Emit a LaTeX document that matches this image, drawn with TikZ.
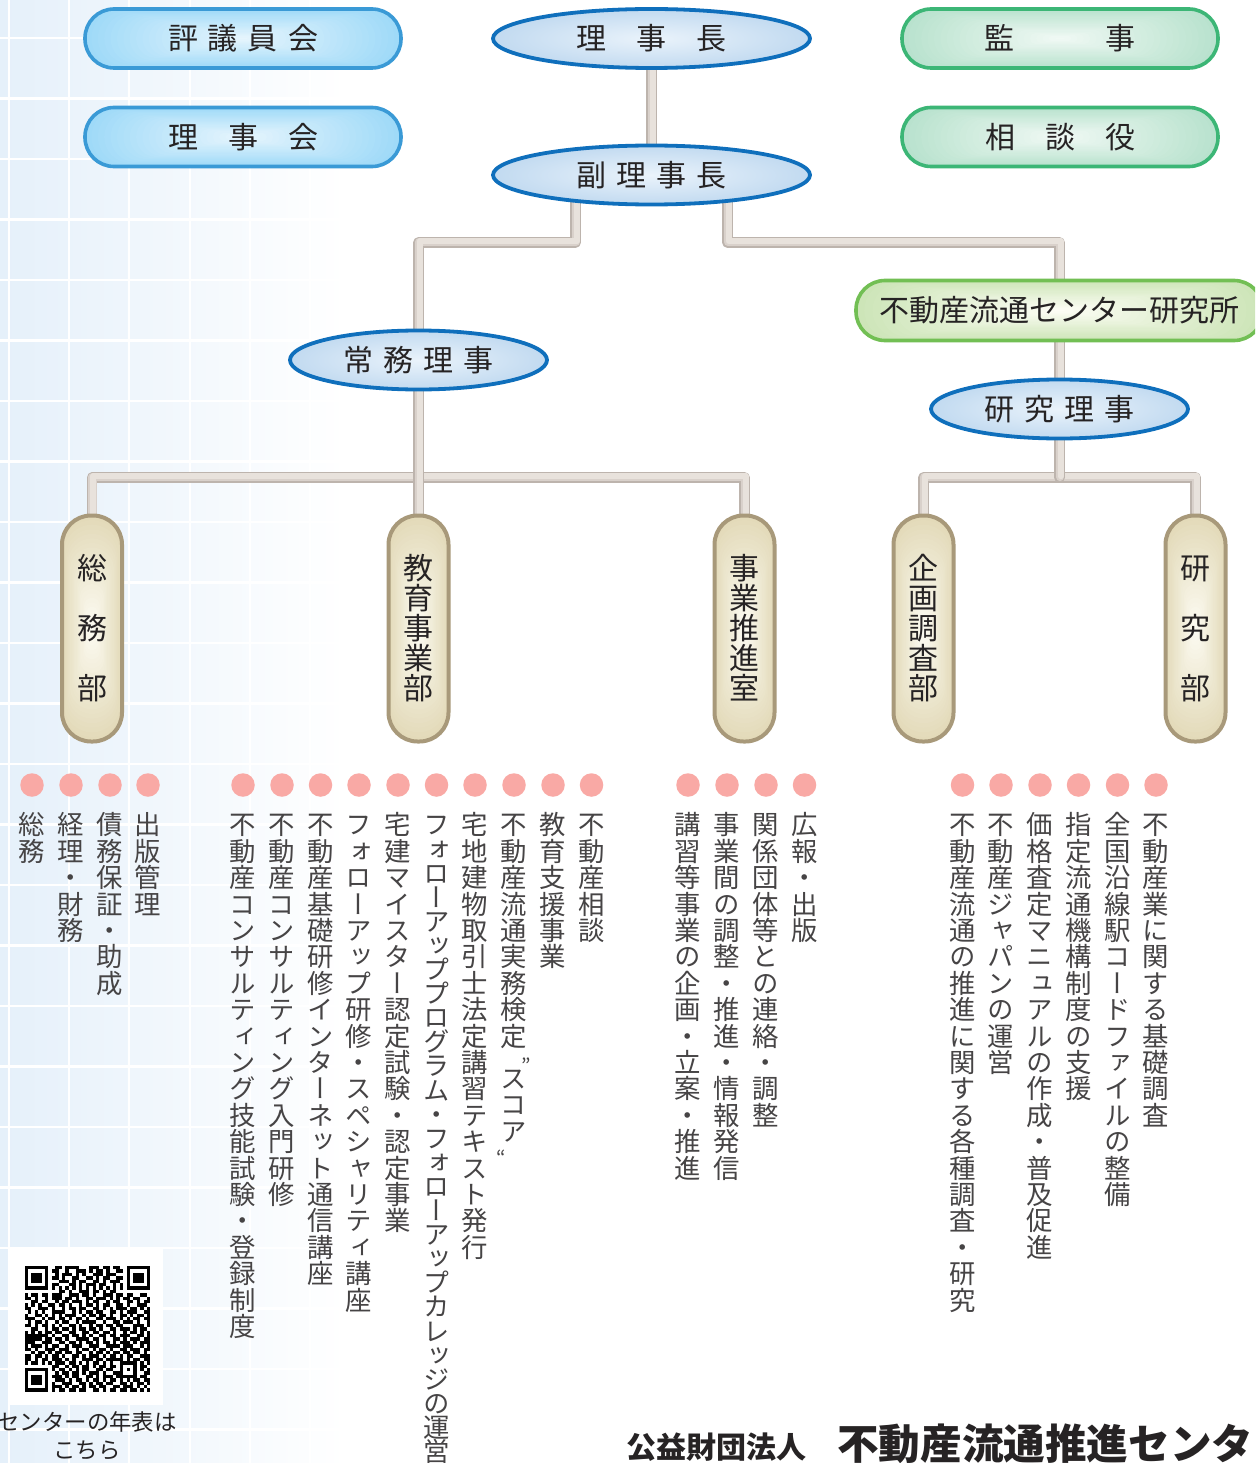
\documentclass[tikz,border=0pt]{standalone}
\usepackage{fontspec}
\usetikzlibrary{shapes.geometric}
\setmainfont{Noto Sans CJK JP}
\newfontfamily\vfont[RawFeature=+vert]{Noto Sans CJK JP}
\definecolor{txt}{HTML}{262324}
\definecolor{itxt}{HTML}{464445}
\definecolor{bluebd}{HTML}{3A9AD6}
\definecolor{blueed}{HTML}{9FDAF8}
\definecolor{bluece}{HTML}{E6F5FD}
\definecolor{greenbd}{HTML}{3CB676}
\definecolor{greened}{HTML}{B9E2CE}
\definecolor{greence}{HTML}{F0F9F4}
\definecolor{limebd}{HTML}{72BF54}
\definecolor{limeed}{HTML}{CDE5B8}
\definecolor{limece}{HTML}{FDFDF5}
\definecolor{sandbd}{HTML}{A8997A}
\definecolor{sanded}{HTML}{E3DAB9}
\definecolor{sandce}{HTML}{FCFBF2}
\definecolor{ellbd}{HTML}{0F6FBC}
\definecolor{ellce}{HTML}{EAF3FB}
\definecolor{elled}{HTML}{A3C7E8}
\definecolor{dotc}{HTML}{F9A9A5}
\definecolor{bgc}{HTML}{E5F0FA}
\definecolor{pipeD}{HTML}{BDB4AD}
\definecolor{pipeM}{HTML}{D9D1CB}
\definecolor{pipeL}{HTML}{E8E2DC}
\pgfdeclareradialshading{ellshade}{\pgfpoint{0bp}{0bp}}{color(0bp)=(ellce); color(44bp)=(elled); color(100bp)=(elled)}
\pgfdeclarelayer{back}\pgfdeclarelayer{pipes}\pgfsetlayers{back,pipes,main}
% soft burst fill under a pill: centre x, centre y, width, height, edge colour, centre colour
\newcommand\softbg[6]{%
  \begin{scope}[shift={(#1,#2)}]
    \foreach \i in {0,...,24}{%
      \pgfmathsetmacro\tq{\i/24}%
      \pgfmathsetmacro\pc{100*\tq}%
      \pgfmathsetmacro\hw{#3/2*(1-\tq*0.97)}%
      \pgfmathsetmacro\hh{#4/2*(1-\tq*0.97)}%
      \pgfmathsetmacro\rr{min(\hw,\hh)}%
      \pgfmathsetmacro\dx{\hw-\rr}%
      \pgfmathsetmacro\dy{\hh-\rr}%
      \pgfmathsetmacro\lw{2*\rr}%
      \draw[#6!\pc!#5, line cap=round, line width=\lw pt] (-\dx,-\dy) -- (\dx,\dy);
    }%
  \end{scope}}
% vertical text: one upright cell per character
\def\vend{VEND}
\def\vcell#1{\hbox to 1em{\hss\vrule width 0pt height .88em depth .12em\relax #1\hss}\kern\vextra}
\def\vscan#1{\ifx#1\vend\let\vnext\relax\else\ifx#1|\kern16pt\relax\else\vcell{#1}\fi\let\vnext\vscan\fi\vnext}
\newdimen\vextra
\newcommand\vstack[2]{\vbox{\vfont\offinterlineskip\vextra=\dimexpr#1-1em\relax\edef\vtmp{#2}\expandafter\vscan\vtmp\vend\unkern}}
\newcommand\gp[1]{\kern#1pt\relax}
\newcount\qrc
\def\qrm{3.4}
\def\qrscan#1{\ifx#1;\let\qrnext\relax\else\if#1X\fill[black] ({24.5+\the\qrc*\qrm},{1266+\qry*\qrm}) rectangle ({24.5+(\the\qrc+1)*\qrm+0.05},{1266+(\qry+1)*\qrm+0.05});\fi\global\advance\qrc by 1\relax\let\qrnext\qrscan\fi\qrnext}
\tikzset{
  lab/.style={font=\fontsize{30}{34}\selectfont, text=txt, inner sep=0pt},
  pillb/.style={lab, rectangle, draw=bluebd, line width=3.6pt, rounded corners=29pt, minimum width=316pt, minimum height=59pt},
  pillg/.style={lab, rectangle, draw=greenbd, line width=3.6pt, rounded corners=29pt, minimum width=316pt, minimum height=59pt},
  pilll/.style={lab, rectangle, draw=limebd, line width=3.6pt, rounded corners=29pt, minimum width=407pt, minimum height=60pt},
  dept/.style={lab, rectangle, draw=sandbd, line width=4pt, rounded corners=29pt, minimum width=60pt, minimum height=226pt},
  ell/.style={lab, ellipse, draw=ellbd, line width=3.8pt, shading=ellshade},
  ellwide/.style={ell, minimum width=317pt, minimum height=59pt},
  ellnarrow/.style={ell, minimum width=257pt, minimum height=59pt},
  pipe/.style={line width=10.5pt, draw=pipeD, line join=round, line cap=round,
    postaction={draw=pipeM, line width=8.5pt, transform canvas={shift={(0.5,-0.6)}}},
    postaction={draw=pipeL, line width=6pt, transform canvas={shift={(1.1,-1.3)}}}},
  dotm/.style={circle, fill=dotc, minimum size=23.5pt, inner sep=0pt},
  item/.style={anchor=north, inner sep=0pt, text=itxt, font=\fontsize{26.4}{30}\selectfont},
}
\begin{document}
\begin{tikzpicture}[x=1pt,y=-1pt]
\clip (0,0) rectangle (1255,1463);
\useasboundingbox (0,0) rectangle (1255,1463);
% background
\begin{pgfonlayer}{back}
  \fill[white] (0,0) rectangle (1255,1463);
  \shade[left color=bgc,right color=white] (0,0) rectangle (345,1463);
  \foreach \x in {9,69,129,190,250,310} \draw[white,line width=2.5pt] (\x,0) -- (\x,1463);
  \foreach \k in {0,...,23} \draw[white,line width=2.5pt] (0,{38+60.5*\k}) -- (345,{38+60.5*\k});
\end{pgfonlayer}
% soft fills
\softbg{243}{38.5}{316}{59}{blueed}{bluece}
\softbg{243}{137}{316}{59}{blueed}{bluece}
\softbg{1060}{38.5}{316}{59}{greened}{greence}
\softbg{1060}{137}{316}{59}{greened}{greence}
\softbg{1059.5}{310.5}{407}{60}{limeed}{limece}
\softbg{92}{628.5}{60}{226}{sanded}{sandce}
\softbg{418.5}{628.5}{60}{226}{sanded}{sandce}
\softbg{744.5}{628.5}{60}{226}{sanded}{sandce}
\softbg{923.5}{628.5}{60}{226}{sanded}{sandce}
\softbg{1195.5}{628.5}{60}{226}{sanded}{sandce}
% top boxes
\node[pillb] (hyogi) at (243,38.5) {評\gp{10}議\gp{10}員\gp{10}会};
\node[pillb] (rijikai) at (243,137) {理\gp{30}事\gp{30}会};
\node[pillg] (kanji) at (1060,38.5) {監\gp{91}事};
\node[pillg] (sodan) at (1060,137) {相\gp{30}談\gp{30}役};
\node[ellwide] (rijicho) at (651.5,38.5) {理\gp{30}事\gp{30}長};
\node[ellwide] (fuku) at (651.5,175) {副\gp{10}理\gp{10}事\gp{10}長};
\node[ellnarrow] (jomu) at (418.5,360) {常\gp{10}務\gp{10}理\gp{10}事};
\node[pilll] (kenkyujo) at (1059.5,310.5) {不動産流通センター研究所};
\node[ellnarrow] (kenriji) at (1059.5,409) {研\gp{10}究\gp{10}理\gp{10}事};
% departments
\node[dept] (soumu) at (92,628.5) {\vstack{60pt}{総務部}};
\node[dept] (kyoiku) at (418.5,628.5) {\vstack{30pt}{教育事業部}};
\node[dept] (jigyo) at (744.5,628.5) {\vstack{30pt}{事業推進室}};
\node[dept] (kikaku) at (923.5,628.5) {\vstack{30pt}{企画調査部}};
\node[dept] (kenbu) at (1195.5,628.5) {\vstack{60pt}{研究部}};
% junction coordinates
\coordinate (fl) at (575.5,175);
\coordinate (fr) at (727.5,175);
\coordinate (tl) at (418.5,242.5);
\coordinate (tr) at (1059.5,242.5);
\coordinate (h1) at (92,477.5);
\coordinate (h2) at (744.5,477.5);
\coordinate (h3) at (923.5,477.5);
\coordinate (h4) at (1195.5,477.5);
\coordinate (hm) at (1059.5,477.5);
% connectors
\begin{pgfonlayer}{pipes}
  \draw[pipe] (soumu.center) -- (h1) -- (h2) -- (jigyo.center);
  \draw[pipe] (kikaku.center) -- (h3) -- (h4) -- (kenbu.center);
  \draw[pipe] (rijicho.center) -- (fuku.center);
  \draw[pipe] (fl) |- (tl) -- (jomu.center);
  \draw[pipe] (fr) |- (tr) -- (kenkyujo.center);
  \draw[pipe] (jomu.center) -- (kyoiku.center);
  \draw[pipe] (kenkyujo.center) -- (kenriji.center);
  \draw[pipe] (kenriji.center) -- (hm);
\end{pgfonlayer}
% lists
\foreach \x/\pt/\t [count=\n] in {
  32/26.4/{総務},
  71/26.4/{経理・財務},
  110/26.4/{債務保証・助成},
  148/26.4/{出版管理},
  243/26.4/{不動産コンサルティング技能試験・登録制度},
  282/26.4/{不動産コンサルティング入門研修},
  320.5/26.4/{不動産基礎研修インターネット通信講座},
  359/26.4/{フォローアップ研修・スペシャリティ講座},
  398/26.4/{宅建マイスター認定試験・認定事業},
  436.5/24.1/{フォローアッププログラム・フォローアップカレッジの運営},
  475/26.4/{宅地建物取引士法定講習テキスト発行},
  514/26.4/{不動産流通実務検定|スコア},
  553/26.4/{教育支援事業},
  591.5/26.4/{不動産相談},
  688/26.4/{講習等事業の企画・立案・推進},
  727/26.4/{事業間の調整・推進・情報発信},
  766/26.4/{関係団体等との連絡・調整},
  804.5/26.4/{広報・出版},
  962.5/26.4/{不動産流通の推進に関する各種調査・研究},
  1001/26.4/{不動産ジャパンの運営},
  1040/26.4/{価格査定マニュアルの作成・普及促進},
  1078.5/26.4/{指定流通機構制度の支援},
  1117.5/26.4/{全国沿線駅コードファイルの整備},
  1156/26.4/{不動産業に関する基礎調査}}{
  \node[dotm] (dot\n) at (\x,785) {};
  \node[item] (item\n) at (\x,811.5) {\vstack{\pt pt}{\t}};
}
\node[inner sep=0pt,text=itxt,font=\fontsize{20}{20}\selectfont] (qa) at (526,1066) {”};
\node[inner sep=0pt,text=itxt,font=\fontsize{20}{20}\selectfont] (qb) at (501,1158) {“};
% QR
\fill[white] (8,1248) rectangle (163,1405);
\foreach \qry/\s in {
0/XXXXXXXooXXoXXXXoooXXXoXXoXXooXXXXXXX,
1/XoooooXoXXooXooXXXoXoXXoXooXXoXoooooX,
2/XoXXXoXooXoXXXoXoXooXXXoXXXoooXoXXXoX,
3/XoXXXoXoXXoXooXXooXXoXoXXooXXoXoXXXoX,
4/XoXXXoXoooXXXoXoXXooXXoXoXXXooXoXXXoX,
5/XoooooXoXXoooXXoXoXXXoXXooXoXoXoooooX,
6/XXXXXXXoXoXoXoXoXoXoXoXoXoXoXoXXXXXXX,
7/ooooooooooXXoXooXXXoXXoXoXXoooooooooo,
8/XoXXoXXoXXXooXXXoXXoXooXXXoXXoXXooXXo,
9/XXoXooXoXXXoXXoXooXXoXXXoXoXoXXoXXooX,
10/ooXXoXXooXoXXoXXXoXoXXooXoXXooXXoXoXX,
11/XoXoXooXXoXXoXooXoXXoXoXXooXXoXooXXXo,
12/XXooXXXoXooXoXXoXXooXXoXoXoXXXoXXoXoX,
13/oXoXoXooXXXXooXoXoXXoXXooXXoXoXXXooXX,
14/XooXXoXoXoXoXXXooXoXXoXXoXooXXoXoXXoX,
15/XXXooXoXXoXXoXoXXoXooXXoXXXoXoXoXXoXX,
16/oXoXXoXooXoXXooXoXXXXooXooXXoXXXoXooX,
17/XXoXoXXoXoXooXXoXooXoXXoXXoXXoooXXXoX,
18/ooXXooXoXXoXXoXoXXoXXoXooXXoXXXoXoXXo,
19/XoXoXoXXoXXooXXooXXoXXoXXoXooXoXXoXoX,
20/XXXXXXXoXooXXoXXoXoXooXXoXXoXXXooXXoX,
21/XXXXXoXXoXXoXooXXXXoXXoXooXXoXoXXXoXX,
22/XXXooXXXooXXoXXoXoXXoXoXXoXoXXXoXoXXX,
23/XoXXXoXoXXooXoXXXooXXXooXXXXoXXXooXoX,
24/XXoXooXXXoXXXooXoXXoXoXXoXooXXoXXXoXX,
25/ooXoXXoXoXXoXXoXXooXoXXoXoXXoXXoXXoXo,
26/XXoXXoXoXXoXooXXoXoXXXoXoXXoXoXXooXXX,
27/XXoXoXXoXXXoXoXooXXXoXXoXXXXXoXoXXoXX,
28/XoXXoXoXoXXXoXXoXoXoXXoXoXooXXXXXoXoX,
29/ooooooooXXooXoXXoXXoXoXXoXXoXoooXoXXo,
30/XXXXXXXoXoXXoXoXoXXooXXoXXooXoXoXoXoX,
31/XoooooXooXoXXoXXoXoXXXoXooXXXoooXooXX,
32/XoXXXoXoXXXoXoXXooXXoXoXXXoXXXXXXoXXo,
33/XoXXXoXooXXXoXoXXoXoXXoXoXXoXoXoXXoXX,
34/XoXXXoXoXooXXXooXXoXoXXoXXooXXoXoXXoX,
35/XoooooXoXXXoXoXXoXoXXoXXooXXoXXXoXoXo,
36/XXXXXXXoXoXXoXXoXXooXXoXoXXoXXoXXoXoX
}{
  \global\qrc=0\relax
  \expandafter\qrscan\s;
}
\node[font=\fontsize{22.4}{28}\selectfont, text=txt, align=center, inner sep=0pt] (caption) at (87,1435.5) {センターの年表は\\こちら};
\node[anchor=west, inner sep=0pt, text=txt, font=\bfseries\fontsize{30}{30}\selectfont] (corp) at (626,1447) {公益財団法人};
\node[anchor=west, inner sep=0pt, text=txt, font=\bfseries\fontsize{41.6}{42}\selectfont] (name) at (837,1444) {不動産流通推進センタ};
\end{tikzpicture}
\end{document}
